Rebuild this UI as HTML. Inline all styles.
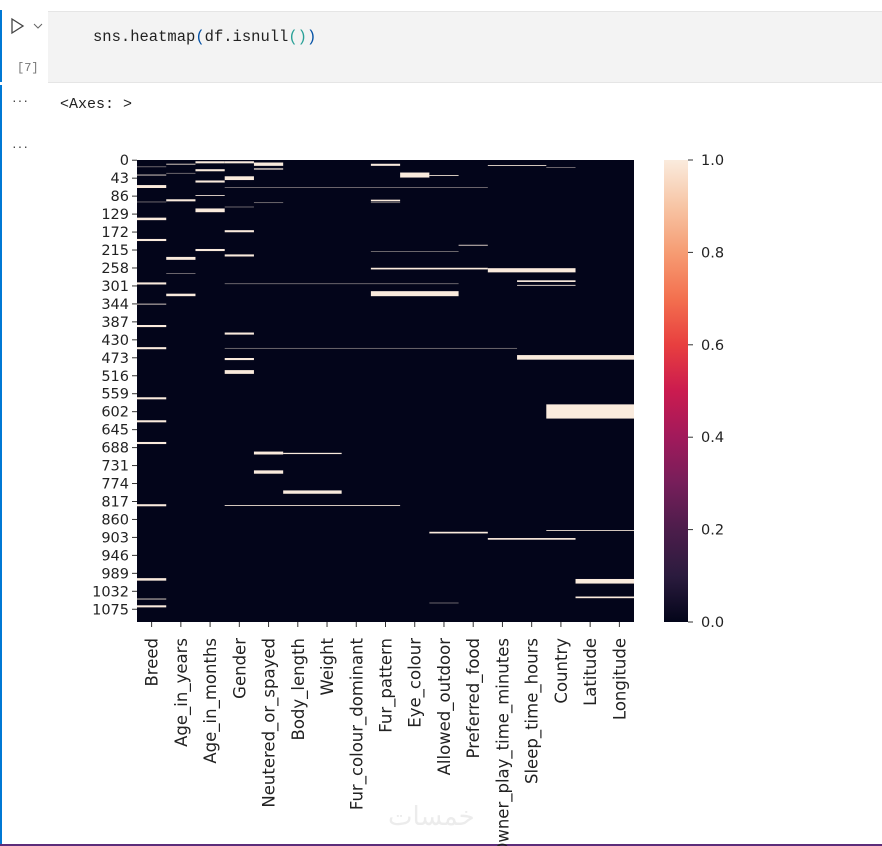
<!DOCTYPE html>
<html><head><meta charset="utf-8">
<style>
body{margin:0;width:882px;height:846px;background:#fff;position:relative;overflow:hidden;font-family:"Liberation Sans",sans-serif}
.abs{position:absolute}
.mono{font-family:"Liberation Mono","DejaVu Sans Mono",monospace}
</style></head><body>
<div class="abs" style="left:0;top:10px;width:2px;height:72px;background:#0078d4"></div>
<div class="abs" style="left:0;top:85px;width:2px;height:761px;background:#0078d4"></div>
<div class="abs" style="left:48px;top:11px;width:834px;height:70px;background:#f3f3f3;border-top:1px solid #e5e5e5;border-bottom:1px solid #e5e5e5"></div>
<svg class="abs" style="left:10px;top:17px" width="16" height="18"><path d="M2 2 L13 9 L2 16 Z" fill="none" stroke="#444" stroke-width="1.3"/></svg>
<svg class="abs" style="left:33px;top:22px" width="10" height="8"><path d="M1 2 L5 6 L9 2" fill="none" stroke="#666" stroke-width="1"/></svg>
<div class="abs mono" style="left:17px;top:61px;font-size:12px;color:#777">[7]</div>
<div class="abs mono" style="left:93px;top:28px;font-size:15.5px;color:#222;white-space:pre">sns.heatmap<span style="color:#0451a5">(</span>df.isnull<span style="color:#2aa198">()</span><span style="color:#0451a5">)</span></div>
<div class="abs" style="left:12px;top:92px;font-size:14px;color:#444;letter-spacing:1px">···</div>
<div class="abs mono" style="left:60px;top:96px;font-size:15px;color:#222">&lt;Axes: &gt;</div>
<div class="abs" style="left:12px;top:138px;font-size:14px;color:#444;letter-spacing:1px">···</div>
<div class="abs" style="left:388px;top:802px;font-size:26px;color:#ececec;font-family:'DejaVu Sans',sans-serif">خمسات</div>
<div class="abs" style="left:0;top:844px;width:882px;height:2px;background:#5c2d7a"></div>
<svg id="chart" class="abs" style="left:0;top:0" width="882" height="846"></svg>
<script>
const columns=["Breed","Age_in_years","Age_in_months","Gender","Neutered_or_spayed","Body_length","Weight","Fur_colour_dominant","Fur_pattern","Eye_colour","Allowed_outdoor","Preferred_food","Owner_play_time_minutes","Sleep_time_hours","Country","Latitude","Longitude"];
const nRows=1106;
const rowTicks=[0,43,86,129,172,215,258,301,344,387,430,473,516,559,602,645,688,731,774,817,860,903,946,989,1032,1075];
const cbarTicks=[0,0.2,0.4,0.6,0.8,1.0];
// missing segments: [startRow, rowCount, firstCol, lastCol]
const missing=[
[16,1,0,0],[35,2,0,0],[60,7,0,0],[100,1,0,0],[138,6,0,0],[189,5,0,0],[293,5,0,0],[344,2,0,0],[395,5,0,0],[448,5,0,0],[568,5,0,0],[623,5,0,0],[675,5,0,0],[824,5,0,0],[1001,6,0,0],[1050,2,0,0],[1066,5,0,0],
[9,2,1,1],[31,1,1,1],[94,5,1,1],[232,7,1,1],[271,1,1,1],[320,6,1,1],
[3,5,2,2],[22,5,2,2],[49,5,2,2],[84,2,2,2],[116,9,2,2],[213,5,2,2],
[3,5,3,3],[39,9,3,3],[66,1,3,11],[112,1,3,3],[168,5,3,3],[226,5,3,3],[296,1,3,10],[413,5,3,3],[450,1,3,12],[474,5,3,3],[503,9,3,3],[826,2,3,8],
[6,8,4,4],[20,3,4,4],[102,1,4,4],[698,7,4,4],[743,8,4,4],
[701,3,5,6],[791,8,5,6],
[9,5,8,8],[95,4,8,8],[102,1,8,8],[219,1,8,10],[258,4,8,11],[314,12,8,10],
[30,12,9,9],[36,2,10,10],[12,2,12,13],[18,1,14,14],[203,2,11,11],
[259,10,12,14],[288,4,13,14],[299,2,13,14],[467,11,13,16],[585,34,14,16],
[890,4,10,11],[886,2,14,16],[905,4,12,14],[1003,11,15,16],[1045,4,15,16],[1060,1,10,10]
];
const X0=137,X1=634,Y0=160,Y1=622;
const cw=(X1-X0)/columns.length;
const xCol=c=>X0+c*cw;
const yRow=r=>Y0+r*(Y1-Y0)/nRows;
const svg=document.getElementById('chart');
const NS='http://www.w3.org/2000/svg';
function mk(t,a){const e=document.createElementNS(NS,t);for(const k in a)e.setAttribute(k,a[k]);svg.appendChild(e);return e;}
let bg=mk('rect',{x:X0,y:Y0,width:X1-X0,height:Y1-Y0,fill:'#03051a'});


missing.forEach(m=>{
 const r=mk('rect',{x:xCol(m[2]),y:yRow(m[0]),width:xCol(m[3]+1)-xCol(m[2]),height:yRow(m[0]+m[1])-yRow(m[0]),fill:'#faebdd'});
 
 
});
rowTicks.forEach(t=>{
 const y=yRow(t+0.5);
 const l=mk('line',{x1:X0-5,x2:X0,y1:y,y2:y,stroke:'#333','stroke-width':1});
 
 
 const tx=mk('text',{x:X0-8,y:y+5,'text-anchor':'end','font-size':14.5,fill:'#222','font-family':'DejaVu Sans, sans-serif'});
 tx.textContent=t;
 
 
});
columns.forEach((c,i)=>{
 const x=xCol(i+0.5);
 const l=mk('line',{x1:x,x2:x,y1:Y1,y2:Y1+5,stroke:'#333','stroke-width':1});
 
 
 const tx=mk('text',{x:0,y:0,'text-anchor':'end','font-size':16.5,fill:'#222','font-family':'DejaVu Sans, sans-serif',transform:`translate(${x+6},${Y1+16}) rotate(-90)`});
 tx.textContent=c;
 
 
});
// colorbar
const CX0=664,CX1=688;
const defs=mk('defs',{});
const g=document.createElementNS(NS,'linearGradient');g.setAttribute('id','rocket');g.setAttribute('x1','0');g.setAttribute('y1','1');g.setAttribute('x2','0');g.setAttribute('y2','0');defs.appendChild(g);
[['0','#03051a'],['0.1','#2b1b3e'],['0.2','#4c1d4b'],['0.3','#761e5a'],['0.4','#a11a5b'],['0.5','#cb1b4f'],['0.6','#e83f3f'],['0.7','#f3704f'],['0.8','#f69c73'],['0.9','#f7c5a5'],['1','#faebdd']].forEach(s=>{const st=document.createElementNS(NS,'stop');st.setAttribute('offset',s[0]);st.setAttribute('stop-color',s[1]);g.appendChild(st);});
const cb=mk('rect',{x:CX0,y:Y0,width:CX1-CX0,height:Y1-Y0,fill:'url(#rocket)'});


cbarTicks.forEach(v=>{
 const y=Y1-v*(Y1-Y0);
 const l=mk('line',{x1:CX1,x2:CX1+5,y1:y,y2:y,stroke:'#333','stroke-width':1});
 
 
 const tx=mk('text',{x:CX1+13,y:y+5,'font-size':14.5,fill:'#222','font-family':'DejaVu Sans, sans-serif'});
 tx.textContent=v.toFixed(1);
 
 
});
</script>
</body></html>
